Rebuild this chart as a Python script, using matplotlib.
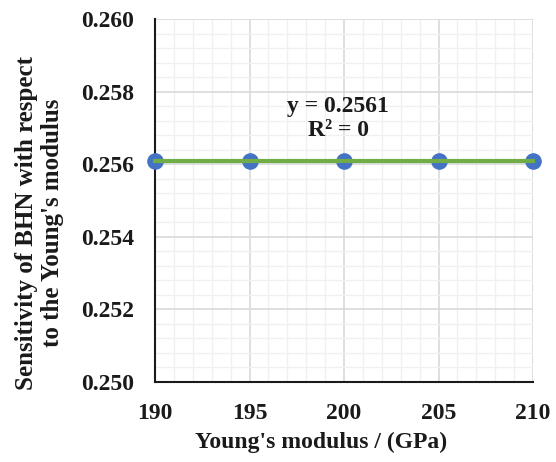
import numpy as np
import matplotlib
matplotlib.use('Agg')
import matplotlib.pyplot as plt
from matplotlib.ticker import MultipleLocator, FormatStrFormatter

plt.rcParams['font.family'] = ['Liberation Serif', 'DejaVu Serif']
plt.rcParams['font.weight'] = 'bold'

# data
youngs_modulus = [190, 195, 200, 205, 210]
sensitivity = [0.2561, 0.2561, 0.2561, 0.2561, 0.2561]
fit_value = 0.2561

fig = plt.figure(figsize=(5.56, 4.62), dpi=100)
ax = fig.add_axes([155/556, 1 - 382/462, (533 - 155)/556, (382 - 19)/462])

ax.set_xlim(190, 210)
ax.set_ylim(0.250, 0.260)
ax.xaxis.set_major_locator(MultipleLocator(5))
ax.xaxis.set_minor_locator(MultipleLocator(1))
ax.yaxis.set_major_locator(MultipleLocator(0.002))
ax.yaxis.set_minor_locator(MultipleLocator(0.0004))
ax.yaxis.set_major_formatter(FormatStrFormatter('%.3f'))

ax.grid(which='major', color='#d9d9d9', linewidth=1.2)
ax.grid(which='minor', color='#f0f0f0', linewidth=1.0)
ax.set_axisbelow(True)

for s in ['top', 'right']:
    ax.spines[s].set_visible(False)
for s in ['left', 'bottom']:
    ax.spines[s].set_color('#1a1a1a')
    ax.spines[s].set_linewidth(1.5)
ax.tick_params(which='both', length=0, labelsize=17, colors='#1a1a1a')
ax.tick_params(axis='y', pad=15)
ax.tick_params(axis='x', pad=15)

# trendline
xs = np.array([youngs_modulus[0], youngs_modulus[-1]])
ax.plot(xs, [fit_value, fit_value], color='#70ad47', linewidth=3, zorder=4, clip_on=False)
ax.scatter(youngs_modulus, sensitivity, s=120, color='#4472c4', zorder=3, clip_on=False)

ax.text(199.7, 0.25725, 'y = 0.2561\nR\u00b2 = 0', ha='center', va='center',
        fontsize=17, fontweight='bold', linespacing=1.2, color='#1a1a1a')

ax.set_xlabel("Young's modulus / (GPa)", fontsize=17, fontweight='bold', color='#1a1a1a')
ax.set_ylabel("Sensitivity of BHN with respect\nto the Young's modulus", fontsize=18,
              fontweight='bold', linespacing=1.15, color='#1a1a1a')
# Excel centres the axis titles on the whole chart area, not the plot box
ax.xaxis.set_label_coords(0.439, -0.138)
ax.yaxis.set_label_coords(-0.241, 0.438)

plt.savefig('out.png', dpi=100)
plt.close()
